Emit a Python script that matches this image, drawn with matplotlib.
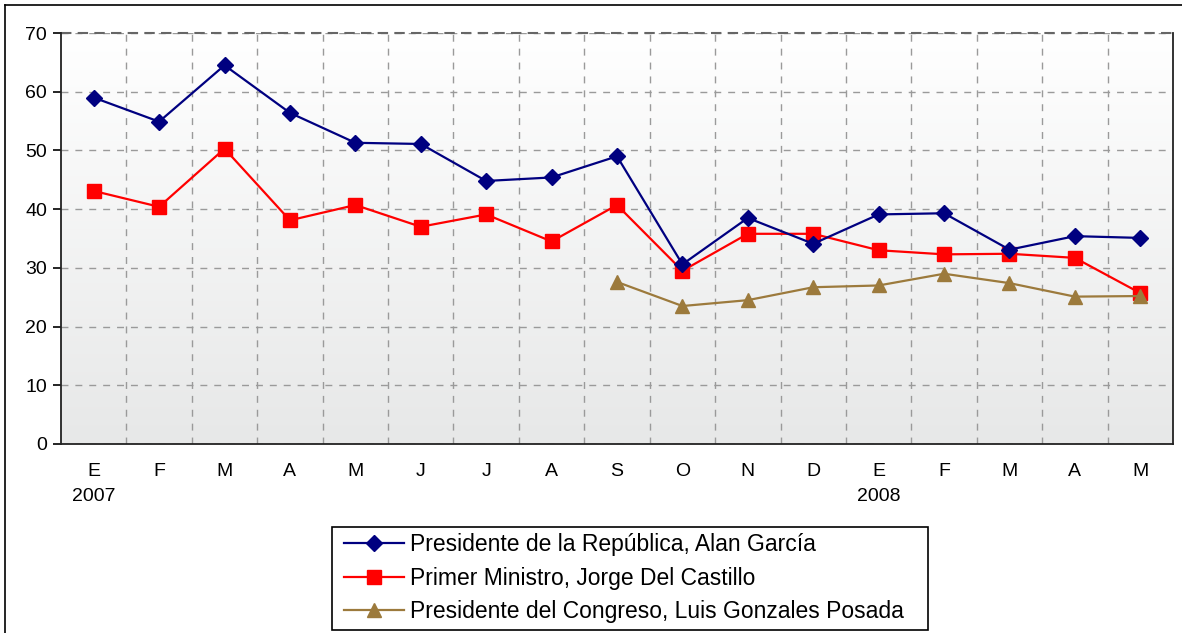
import matplotlib

matplotlib.use("Agg")
import matplotlib.pyplot as plt
import numpy as np
from matplotlib.lines import Line2D
from matplotlib.patches import Rectangle

MONTHS = ["E\n2007", "F", "M", "A", "M", "J", "J", "A", "S", "O", "N", "D",
          "E\n2008", "F", "M", "A", "M"]
GARCIA = [59.0, 54.9, 64.5, 56.4, 51.3, 51.1, 44.8, 45.4, 49.0, 30.6, 38.5,
          34.1, 39.1, 39.3, 33.1, 35.4, 35.1]
CASTILLO = [43.1, 40.4, 50.3, 38.1, 40.7, 37.0, 39.1, 34.5, 40.7, 29.5, 35.8,
            35.8, 33.0, 32.3, 32.4, 31.7, 25.7]
# Congreso series starts in September 2007
GONZALES = [None] * 8 + [27.6, 23.5, 24.5, 26.7, 27.0, 29.0, 27.4, 25.1, 25.2]
LABELS = ["Presidente de la República, Alan García",
          "Primer Ministro, Jorge Del Castillo",
          "Presidente del Congreso, Luis Gonzales Posada"]

W, H = 1182, 633
plt.rc("font", family="Liberation Sans")

fig = plt.figure(figsize=(W / 100, H / 100), dpi=100)
ax = fig.add_axes([61 / W, 1 - 444 / H, 1112 / W, 411 / H])

x = np.arange(len(MONTHS))
ax.set_xlim(-0.5, len(MONTHS) - 0.5)
ax.set_ylim(0, 70)

# light vertical gradient background
grad = np.linspace(0, 1, 256).reshape(-1, 1)
cmap = matplotlib.colors.LinearSegmentedColormap.from_list("bg", ["#e7e8e8", "#ffffff"])
ax.imshow(grad, aspect="auto", cmap=cmap, origin="lower",
          extent=(-0.5, len(MONTHS) - 0.5, 0, 70), zorder=0)

g = np.array([np.nan if v is None else v for v in GONZALES], dtype=float)
ax.plot(x, GARCIA, color="#000080", lw=1.6, marker="D", ms=8, zorder=4, label=LABELS[0])
ax.plot(x, CASTILLO, color="#ff0000", lw=1.6, marker="s", ms=9.5, zorder=3, label=LABELS[1])
ax.plot(x, g, color="#9c7a3c", lw=1.6, marker="^", ms=10, zorder=3, label=LABELS[2])

ax.set_yticks(range(0, 71, 10))
ax.set_xticks(x)
ax.set_xticklabels(MONTHS, fontsize=14, linespacing=1.55)
ax.set_xticks(np.arange(0.5, len(MONTHS) - 1, 1), minor=True)
ax.tick_params(axis="x", which="both", length=0, pad=14)
ax.tick_params(axis="y", labelsize=14, length=6, width=1.2, direction="out", pad=4)

ax.set_axisbelow(True)
ax.grid(True, axis="y", which="major", linestyle=(0, (5, 5)), color="#9a9a9a", lw=1)
ax.grid(True, axis="x", which="minor", linestyle=(0, (5, 5)), color="#9a9a9a", lw=1)

ax.spines["top"].set_visible(False)
ax.axhline(70, color="#666666", lw=1.5, linestyle=(0, (5, 3)), zorder=1, clip_on=False)
for side in ("left", "bottom", "right"):
    ax.spines[side].set_color("#222222")
    ax.spines[side].set_linewidth(1.3)

# outer chart border (right and bottom fall outside the image)
fig.add_artist(Line2D([5 / W, 1.2], [1 - 5 / H] * 2, color="black", lw=1.2))
fig.add_artist(Line2D([5 / W] * 2, [1 - 5 / H, -0.2], color="black", lw=1.2))

# legend box drawn by hand, entries placed inside it
fig.add_artist(Rectangle((332 / W, 1 - 630 / H), 596 / W, 103 / H, fill=False,
                         edgecolor="black", lw=1.2, transform=fig.transFigure))
fig.legend(loc="upper left", bbox_to_anchor=(344 / W, 1 - 533 / H),
           fontsize=16.5, frameon=False, handlelength=2.6, handletextpad=0.3,
           labelspacing=0.46, borderpad=0, borderaxespad=0)

fig.savefig("out.png", dpi=100)
